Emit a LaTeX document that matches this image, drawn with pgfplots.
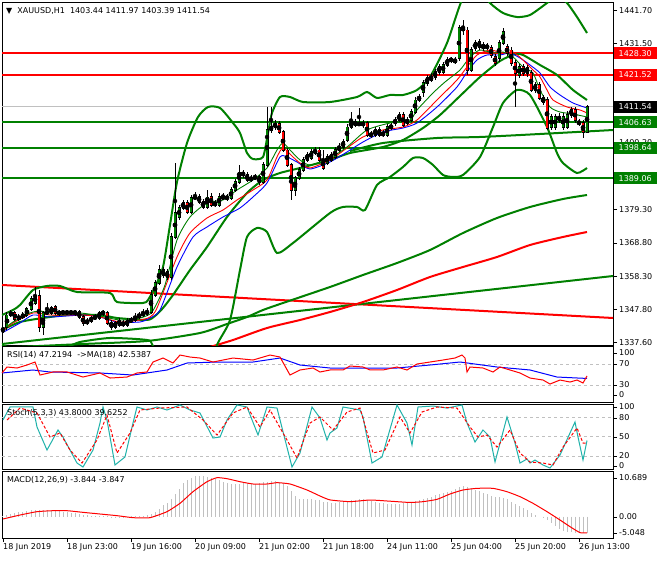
\documentclass[border=0pt]{standalone}
\usepackage{pgfplots}
\pgfplotsset{compat=1.18}
\usepackage{pgfplotstable}
\usepackage{fontspec}
\setmainfont{DejaVu Sans}

\definecolor{mtgreen}{RGB}{0,128,0}
\definecolor{mtred}{RGB}{255,0,0}
\definecolor{mtblue}{RGB}{0,0,255}
\definecolor{mtsea}{RGB}{32,178,170}
\definecolor{mtsilver}{RGB}{192,192,192}
\newcommand\lbl{\fontsize{8}{9.6}\selectfont}

\pgfplotsset{
  panel/.style={scale only axis, width=611pt, anchor=north west,
    xmin=-0.25, xmax=152.5, axis line style={black, line width=0.8pt},
    xtick=\empty, ytick=\empty},
  thickln/.style={line width=2pt},
  thinln/.style={line width=0.9pt},
}

% hourly candles XAUUSD: bar, open, high, low, close
\pgfplotstableread{
x o h l c
0 1340.81 1343.33 1339.56 1342.38
1 1342.38 1347.09 1341.44 1346.15
2 1346.15 1347.72 1345.52 1346.78
3 1346.78 1347.41 1344.27 1344.90
4 1344.90 1346.47 1344.27 1345.52
5 1345.52 1347.09 1344.90 1346.15
6 1346.15 1348.66 1345.52 1348.04
7 1348.04 1352.12 1347.41 1351.17
8 1349.92 1354.94 1349.29 1352.12
9 1352.12 1354.00 1340.81 1342.38
10 1342.38 1347.41 1339.87 1346.78
11 1346.78 1349.92 1346.15 1347.09
12 1346.78 1348.98 1346.15 1348.35
13 1348.66 1349.29 1346.15 1346.78
14 1346.78 1347.72 1345.84 1346.90
15 1346.78 1347.72 1346.15 1347.09
16 1347.09 1347.72 1346.15 1346.78
17 1346.78 1347.72 1346.15 1347.09
18 1347.09 1347.72 1345.84 1346.78
19 1347.09 1347.72 1344.90 1345.52
20 1345.52 1346.15 1342.70 1343.64
21 1343.64 1345.21 1343.01 1344.27
22 1344.27 1345.84 1343.64 1345.21
23 1345.21 1346.47 1344.58 1345.52
24 1345.21 1347.41 1344.58 1346.78
25 1346.78 1347.72 1345.84 1346.90
26 1346.78 1347.41 1343.01 1343.64
27 1343.95 1344.58 1341.44 1342.38
28 1342.38 1344.27 1341.76 1343.64
29 1344.58 1345.21 1342.38 1343.01
30 1343.01 1344.58 1342.38 1343.64
31 1343.01 1345.21 1342.38 1344.27
32 1344.27 1345.52 1343.64 1344.58
33 1344.58 1346.78 1343.95 1345.52
34 1345.52 1347.09 1344.90 1346.15
35 1346.15 1348.04 1345.52 1346.78
36 1346.78 1348.35 1345.84 1347.09
37 1347.09 1354.00 1346.47 1352.43
38 1352.43 1357.14 1351.80 1356.20
39 1356.20 1361.85 1355.57 1360.28
40 1360.28 1361.22 1357.77 1358.71
41 1359.65 1360.59 1357.14 1358.08
42 1358.08 1371.89 1357.14 1370.64
43 1370.64 1393.86 1370.01 1378.17
44 1376.91 1380.68 1375.97 1379.74
45 1379.74 1382.25 1379.11 1381.31
46 1381.31 1382.25 1377.86 1378.48
47 1378.48 1383.82 1377.86 1382.88
48 1382.88 1384.76 1382.25 1383.19
49 1383.19 1384.13 1380.99 1381.62
50 1381.62 1382.56 1379.42 1380.05
51 1380.05 1385.39 1379.42 1383.19
52 1383.19 1384.45 1380.05 1380.68
53 1380.68 1382.25 1380.05 1381.31
54 1380.68 1384.45 1380.05 1383.19
55 1382.88 1384.45 1382.25 1383.19
56 1382.88 1384.13 1381.94 1383.00
57 1382.88 1386.33 1382.25 1385.39
58 1385.39 1388.84 1384.76 1387.90
59 1387.90 1393.24 1387.27 1390.73
60 1390.73 1391.67 1389.16 1390.10
61 1390.10 1391.04 1387.90 1388.53
62 1388.53 1390.10 1387.90 1389.16
63 1389.16 1390.41 1388.53 1389.47
64 1389.47 1390.10 1386.96 1387.90
65 1387.90 1394.18 1387.27 1393.24
66 1393.24 1411.44 1392.61 1404.22
67 1404.22 1411.44 1403.28 1405.16
68 1405.16 1407.36 1404.22 1406.11
69 1406.11 1407.05 1402.97 1403.60
70 1403.60 1404.22 1397.32 1397.94
71 1397.94 1398.57 1392.61 1393.24
72 1393.24 1393.86 1382.25 1385.39
73 1385.39 1389.78 1383.51 1389.16
74 1389.16 1392.61 1388.53 1391.67
75 1391.67 1395.75 1391.04 1394.81
76 1394.81 1397.32 1394.18 1396.38
77 1395.43 1398.26 1394.81 1397.32
78 1397.00 1398.89 1396.38 1397.94
79 1397.94 1398.89 1394.18 1394.81
80 1394.81 1397.94 1391.67 1392.29
81 1393.86 1396.69 1393.24 1395.75
82 1394.81 1397.32 1394.18 1396.38
83 1395.75 1398.89 1395.12 1397.94
84 1397.94 1400.14 1397.32 1398.89
85 1398.89 1401.40 1398.26 1400.46
86 1401.08 1406.11 1400.46 1405.16
87 1405.16 1409.87 1404.54 1406.73
88 1406.73 1407.68 1405.16 1405.79
89 1405.79 1411.13 1405.48 1406.42
90 1406.42 1407.36 1404.85 1405.79
91 1406.42 1407.05 1402.03 1402.65
92 1402.65 1403.91 1401.71 1402.75
93 1402.65 1405.16 1402.03 1404.22
94 1404.22 1405.16 1402.03 1402.65
95 1402.65 1404.22 1402.03 1403.28
96 1402.65 1406.11 1402.03 1405.16
97 1405.16 1406.42 1404.22 1405.26
98 1406.42 1408.30 1405.48 1407.36
99 1407.36 1409.87 1406.73 1408.93
100 1408.93 1409.87 1405.16 1405.79
101 1406.42 1408.30 1405.79 1407.36
102 1407.36 1410.81 1406.73 1409.87
103 1409.87 1414.58 1409.25 1413.64
104 1413.64 1415.52 1413.01 1414.58
105 1416.15 1419.92 1414.58 1418.98
106 1418.98 1421.49 1418.03 1420.55
107 1419.92 1422.12 1419.29 1420.86
108 1420.86 1423.37 1419.92 1422.43
109 1424.00 1424.94 1421.49 1422.43
110 1422.43 1425.57 1421.80 1424.63
111 1424.63 1427.14 1424.00 1426.20
112 1426.20 1427.14 1425.25 1426.30
113 1425.57 1427.14 1424.94 1426.20
114 1426.82 1437.18 1425.88 1436.24
115 1436.24 1438.75 1434.04 1435.61
116 1435.61 1436.55 1421.49 1423.06
117 1423.06 1430.28 1422.43 1429.33
118 1429.96 1432.47 1429.02 1431.53
119 1431.85 1432.79 1429.33 1430.28
120 1429.96 1431.85 1429.02 1430.90
121 1430.28 1431.53 1429.33 1430.40
122 1429.96 1430.90 1426.82 1427.77
123 1427.14 1428.08 1424.31 1425.25
124 1426.82 1432.47 1425.57 1431.53
125 1431.53 1436.24 1430.90 1434.99
126 1430.28 1431.22 1427.45 1428.39
127 1429.33 1430.28 1424.31 1425.25
128 1425.25 1426.20 1411.44 1422.12
129 1421.49 1424.94 1420.55 1424.00
130 1424.00 1424.94 1421.17 1422.12
131 1423.69 1424.63 1420.86 1422.12
132 1422.12 1423.06 1416.15 1416.78
133 1416.78 1419.29 1415.84 1418.35
134 1418.35 1419.29 1413.64 1414.27
135 1414.27 1415.21 1412.07 1413.01
136 1413.64 1414.58 1404.22 1404.85
137 1405.16 1409.25 1404.22 1408.30
138 1405.16 1409.25 1404.22 1408.30
139 1408.30 1409.56 1406.42 1407.36
140 1405.16 1409.56 1404.22 1408.30
141 1405.16 1410.19 1404.54 1408.93
142 1410.50 1411.44 1407.99 1408.93
143 1410.50 1411.44 1406.42 1407.36
144 1406.42 1407.68 1405.48 1406.52
145 1406.42 1407.36 1401.71 1403.60
146 1403.44 1411.97 1403.39 1411.54
}\candles

\begin{document}
\begin{tikzpicture}
\fill[white] (0pt,0pt) rectangle (660pt,-560pt);
\path[use as bounding box] (0pt,0pt) rectangle (660pt,-560pt);

% ---------------- price panel
\begin{axis}[panel, at={(2pt,-2pt)}, height=343pt, ymin=1336.73, ymax=1444.40,
  scaled y ticks=false,
  ytick={1441.70,1431.50,1400.20,1379.30,1368.80,1358.30,1347.80,1337.60},
  yticklabels={1441.70,1431.50,1400.20,1379.30,1368.80,1358.30,1347.80,1337.60},
  ytick pos=right, yticklabel pos=right, tick align=outside, major tick length=4pt,
  ytick style={black, line width=0.6pt},
  y tick label style={font=\lbl, inner sep=1pt, xshift=1pt}]

% levels
\addplot[mtsilver, line width=0.8pt] coordinates {(-0.25,1411.54) (152.5,1411.54)};
\addplot[mtred, thickln] coordinates {(-0.25,1428.30) (152.5,1428.30)};
\addplot[mtred, thickln] coordinates {(-0.25,1421.52) (152.5,1421.52)};
\addplot[mtgreen, thickln] coordinates {(-0.25,1406.63) (152.5,1406.63)};
\addplot[mtgreen, thickln] coordinates {(-0.25,1398.64) (152.5,1398.64)};
\addplot[mtgreen, thickln] coordinates {(-0.25,1389.06) (152.5,1389.06)};
% trend lines
\addplot[mtred, thickln] coordinates {(-0.25,1355.57) (152.5,1345.21)};
\addplot[mtgreen, thickln] coordinates {(-0.25,1337.05) (152.5,1358.39)};
\addplot[mtgreen, thickln, smooth, tension=0.4] coordinates {(86.75,1397.6) (95,1400.14) (108.5,1401.71) (119.25,1402.03) (134.25,1402.97) (152.5,1404.22)};

% long moving averages
\addplot[mtgreen, thickln, smooth, tension=0.4] coordinates {(3.5,1336.11) (20,1337.05) (36,1337.99) (49.25,1340.50) (56,1343.33) (61,1345.52) (65,1347.72) (70,1349.92) (81.75,1354.94) (90,1358.71) (98.5,1362.47) (106.75,1366.55) (115,1371.89) (123.5,1376.60) (131.75,1380.05) (140,1382.56) (146,1383.82)};
\addplot[mtred, thickln, smooth, tension=0.4] coordinates {(51.75,1336.11) (57.5,1338.30) (66,1342.07) (74.25,1344.58) (81.75,1347.09) (90,1350.23) (98.5,1354.00) (106.75,1358.08) (115,1361.22) (123.5,1364.36) (131.75,1368.12) (140,1370.64) (146,1372.21)};

% Bollinger bands
\addplot[mtgreen, thickln, smooth, tension=0.4] coordinates {(-0.25,1346.15) (2.5,1347.72) (4.25,1349.29) (7.5,1354.00) (11,1355.26) (14.25,1355.26) (18.5,1353.37) (26.75,1353.06) (28.5,1350.23) (35,1349.92) (36.25,1350.86) (38,1354.94) (40,1361.22) (41.75,1374.40) (43.5,1387.90) (46,1400.14) (48.75,1408.30) (51.25,1411.44) (54.25,1411.13) (57.5,1406.42) (59.25,1403.28) (61,1397.00) (62.5,1395.12) (65,1395.75) (66.25,1403.28) (67.25,1409.56) (69.25,1414.58) (71.75,1414.58) (75,1413.01) (81.75,1413.01) (88.5,1414.58) (91,1416.15) (93.5,1414.27) (96.75,1415.21) (100,1415.21) (103.5,1416.78) (106.75,1420.86) (111,1431.53) (114.75,1445.03) (118.25,1449.42) (121.75,1444.09) (125,1440.95) (128.5,1439.69) (131.75,1440.32) (136,1444.09) (138.5,1446.29) (141,1444.09) (143.5,1439.69) (146,1434.67)};
\addplot[mtgreen, thickln, smooth, tension=0.4] coordinates {(-0.25,1341.44) (4.25,1343.95) (10,1345.21) (16,1346.15) (24.25,1346.15) (28.5,1345.21) (36,1344.58) (38,1345.84) (40,1348.35) (42.5,1352.43) (46.75,1360.28) (51,1367.50) (56,1376.91) (61,1384.45) (65,1388.53) (69.25,1390.73) (74.25,1392.29) (81.75,1394.81) (86.75,1397.00) (95,1398.89) (100,1401.08) (105,1404.85) (109.25,1408.93) (114.25,1414.90) (119.25,1420.86) (124.25,1425.88) (128,1428.08) (130,1427.77) (134.25,1424.63) (138.5,1421.49) (142.5,1416.78) (146,1413.64)};
\addplot[mtgreen, thickln, smooth, tension=0.4] coordinates {(-0.25,1336.7) (7.5,1334.0) (16,1336.11) (19.25,1337.68) (26.75,1338.93) (36,1338.30) (37.5,1336.42) (43,1322.60) (49.25,1319.47) (52.25,1328.89) (53.5,1336.73) (56.75,1344.58) (59.25,1360.28) (61,1370.64) (63.5,1373.46) (66,1372.21) (68.5,1365.62) (72.5,1368.75) (81.75,1378.17) (85,1380.05) (88.5,1380.05) (90.5,1379.11) (93.5,1386.96) (96.75,1389.47) (100,1392.61) (102.5,1395.43) (105,1395.43) (107.5,1393.24) (110,1390.10) (112.5,1389.47) (115,1390.10) (119.25,1395.75) (122.5,1405.16) (125,1412.70) (128.5,1416.78) (131.75,1415.21) (136,1405.16) (138.5,1397.00) (140,1393.86) (143.5,1390.73) (146,1392.30)};

% fast moving averages
\addplot[mtblue, thinln, smooth, tension=0.4] coordinates {(-0.25,1340.50) (4.25,1343.64) (7.5,1346.15) (11.75,1345.52) (20,1346.15) (24.25,1345.52) (28.5,1343.95) (34.25,1343.95) (36.75,1345.21) (39.25,1347.72) (43.5,1361.22) (47.5,1370.64) (51,1373.78) (55,1376.91) (59.25,1379.74) (62.5,1383.19) (66,1387.59) (69.25,1395.75) (71,1395.75) (73.5,1394.18) (76.75,1391.98) (81.75,1394.18) (86,1397.32) (90,1400.46) (95,1403.60) (100,1404.85) (103.5,1406.42) (108.5,1411.44) (113.5,1417.72) (116,1422.43) (118.5,1426.20) (121,1427.77) (124.25,1427.77) (126.75,1428.39) (129.25,1426.82) (131.75,1424.63) (134.25,1422.12) (136.75,1417.72) (139.25,1415.21) (142.5,1412.70) (146,1411.13)};
\addplot[mtred, thinln, smooth, tension=0.4] coordinates {(-0.25,1341.13) (2.5,1343.64) (7.5,1346.78) (11.75,1346.15) (20,1346.15) (24.25,1345.52) (29.25,1343.95) (34.25,1344.58) (36.75,1345.52) (38.5,1348.35) (43.5,1364.36) (46.75,1371.89) (51,1376.60) (55,1379.11) (58.5,1382.25) (62.5,1385.39) (66,1388.53) (68.5,1395.75) (70,1398.57) (72.5,1395.75) (74.25,1393.86) (76.75,1392.30) (81.75,1394.81) (86,1398.57) (90,1402.03) (95,1404.22) (100,1405.16) (103.5,1407.36) (108.5,1413.64) (113.5,1419.92) (116,1424.00) (118.5,1427.77) (121.75,1429.33) (125,1428.39) (127.5,1428.71) (130,1426.20) (132.5,1423.06) (134.25,1420.86) (136,1416.78) (137.5,1413.64) (141,1411.44) (144.25,1410.50) (146,1409.56)};
\addplot[mtgreen, thinln, smooth, tension=0.4] coordinates {(-0.25,1341.44) (2.5,1343.95) (6.75,1346.78) (9.25,1347.41) (11.75,1346.78) (19.25,1346.78) (24.25,1345.84) (29.25,1344.58) (34.25,1345.21) (36.75,1346.47) (38,1348.66) (40.5,1355.57) (43.5,1369.69) (46.75,1376.91) (51,1381.31) (55,1382.25) (58.5,1385.39) (62.5,1388.53) (66,1392.30) (68.5,1397.94) (70,1400.14) (71.75,1397.94) (74.25,1394.81) (76.75,1393.24) (81.75,1395.43) (86,1398.89) (91,1404.22) (96.75,1406.42) (101.75,1407.36) (103.5,1410.50) (107.5,1415.84) (110.5,1419.29) (114.25,1423.06) (116.75,1427.14) (119.25,1429.33) (122.5,1428.39) (125,1428.71) (127.5,1427.14) (130,1424.00) (132.5,1422.12) (134.25,1416.78) (136.75,1411.44) (139.25,1409.87) (142.5,1409.25) (146,1408.30)};

% candles: wicks, body outline, bull and bear bodies
\addplot[only marks, mark=none, forget plot,
  error bars/.cd, y dir=both, y explicit, error mark=none,
  error bar style={line width=1pt, black}]
  table[x=x, y expr={(\thisrow{h}+\thisrow{l})/2}, y error expr={(\thisrow{h}-\thisrow{l})/2}] {\candles};
\addplot[only marks, mark=none, forget plot,
  error bars/.cd, y dir=both, y explicit, error mark=none,
  error bar style={line width=3pt, black}]
  table[x=x, y expr={(\thisrow{o}+\thisrow{c})/2}, y error expr={abs(\thisrow{c}-\thisrow{o})/2+0.17}] {\candles};
\addplot[only marks, mark=none, forget plot,
  error bars/.cd, y dir=both, y explicit, error mark=none,
  error bar style={line width=1.3pt, mtgreen}]
  table[x=x, y expr={(\thisrow{o}+\thisrow{c})/2}, y error expr={max(\thisrow{c}-\thisrow{o},0)/2}] {\candles};
\addplot[only marks, mark=none, forget plot,
  error bars/.cd, y dir=both, y explicit, error mark=none,
  error bar style={line width=1.3pt, mtred}]
  table[x=x, y expr={(\thisrow{o}+\thisrow{c})/2}, y error expr={max(\thisrow{o}-\thisrow{c},0)/2}] {\candles};
\end{axis}

% ---------------- RSI panel
\begin{axis}[panel, at={(2pt,-346pt)}, height=56pt, ymin=-2.38, ymax=104.3]
\addplot[mtsilver, line width=0.8pt, dash pattern=on 3pt off 3pt] coordinates {(-0.25,70) (152.5,70)};
\addplot[mtsilver, line width=0.8pt, dash pattern=on 3pt off 3pt] coordinates {(-0.25,30) (152.5,30)};
\addplot[mtblue, line width=1pt] coordinates {(-0.25,52.9) (7.5,58.6) (11.75,54.8) (24.25,52.9) (32.5,49.0) (41,58.6) (46,71.9) (53.5,73.8) (62.5,73.8) (69.25,81.4) (74.25,68.1) (81.75,62.4) (90,62.4) (98.5,62.4) (106.75,68.1) (114.25,73.8) (123.5,64.3) (131.75,58.6) (138.5,45.2) (146,42.5)};
\addplot[mtred, line width=1pt] coordinates {(-0.25,52.9) (1,64.3) (3.5,62.4) (6,68.1) (8,73.8) (9.25,49.0) (12.5,54.8) (16,54.8) (20,45.2) (24.25,52.9) (26.75,43.3) (31,45.2) (33.5,52.9) (36,54.8) (37.5,73.8) (40,81.4) (42.5,71.9) (44.25,87.1) (46.75,83.3) (49.25,81.4) (52.5,73.8) (57.5,81.4) (62.5,77.6) (66.75,87.1) (69.25,83.3) (71.75,49.0) (74.25,58.6) (77.5,62.4) (79.25,54.8) (81.75,58.6) (85,58.6) (86.75,66.2) (90,64.3) (91.75,58.6) (95,58.6) (98.5,64.3) (101,58.6) (103.5,70.0) (106.75,73.8) (110,77.6) (113,81.4) (114.75,87.1) (115.5,81.4) (116,54.8) (116.75,64.3) (120,62.4) (122.5,54.8) (124.25,64.3) (126.75,58.6) (129.25,52.9) (131.75,43.3) (135,39.5) (136.75,31.9) (139.25,39.5) (141.75,35.7) (143.5,39.5) (145,33.8) (146,47.2)};
\end{axis}

% ---------------- Stochastic panel
\begin{axis}[panel, at={(2pt,-404pt)}, height=65pt, ymin=0, ymax=100]
\addplot[mtsilver, line width=0.8pt, dash pattern=on 3pt off 3pt] coordinates {(-0.25,80) (152.5,80)};
\addplot[mtsilver, line width=0.8pt, dash pattern=on 3pt off 3pt] coordinates {(-0.25,50) (152.5,50)};
\addplot[mtsilver, line width=0.8pt, dash pattern=on 3pt off 3pt] coordinates {(-0.25,20) (152.5,20)};
\addplot[mtsea, line width=1pt] coordinates {(0,75.4) (1.75,95.4) (7.5,95.4) (8.5,64.6) (11,29.2) (13.75,60.0) (15,49.2) (18.5,9.2) (20,3.1) (22.5,29.2) (24.25,70.8) (25,95.4) (26,75.4) (28,6.2) (30.5,18.5) (32.5,70.8) (33.5,95.4) (36,90.8) (38.5,95.4) (41,90.8) (44.25,98.5) (46.75,90.8) (49.25,86.2) (52.5,47.7) (54.25,49.2) (56,75.4) (58.5,98.5) (61,95.4) (63.75,52.3) (66,95.4) (68.5,93.8) (72.25,3.1) (74.25,24.6) (77.25,95.4) (79.25,78.5) (81,44.6) (81.75,55.4) (83.5,63.1) (85,95.4) (89.25,90.8) (90,80.0) (92.25,9.2) (94.75,18.5) (98.5,98.5) (101,70.8) (102.25,36.9) (103.75,95.4) (107.5,96.9) (111,93.8) (114.75,98.5) (116,70.8) (118,41.5) (120,60.0) (121.75,49.2) (123,10.8) (126,80.0) (128,40.0) (129.25,9.2) (131,15.4) (131.75,9.2) (133,13.8) (135,6.2) (136.75,1.5) (139.25,21.5) (141.75,55.4) (143,72.3) (143.75,49.2) (145,13.8) (146,43.8)};
\addplot[mtred, line width=1pt, dash pattern=on 3pt off 2pt] coordinates {(1,75.4) (4.25,93.8) (8.5,86.2) (11.75,49.2) (14.25,55.4) (16.75,29.2) (19.75,9.2) (23.5,44.6) (26,83.1) (28.5,24.6) (31.75,55.4) (34.25,90.8) (39.25,93.8) (46,95.4) (50,75.4) (53.5,52.3) (57.5,86.2) (61,95.4) (64.25,64.6) (66.75,90.8) (71,44.6) (73.5,16.9) (76.75,70.8) (79.25,80.0) (82.5,60.0) (86,87.7) (89.25,93.8) (92.5,24.6) (95.5,29.2) (99.25,80.0) (101.75,55.4) (104.75,87.7) (108.5,95.4) (113.5,93.8) (116.75,64.6) (118.75,49.2) (121,52.3) (123.5,33.8) (126.75,60.0) (129.25,24.6) (131.75,10.8) (135,9.2) (137.5,6.2) (140,33.8) (143.5,63.1) (145,40.0) (146,39.6)};
\end{axis}

% ---------------- MACD panel
\begin{axis}[panel, at={(2pt,-471pt)}, height=67pt, ymin=-5.048, ymax=10.689,
  xtick={0,16,...,144},
  xticklabels={18 Jun 2019,18 Jun 23:00,19 Jun 16:00,20 Jun 09:00,21 Jun 02:00,21 Jun 18:00,24 Jun 11:00,25 Jun 04:00,25 Jun 20:00,26 Jun 13:00},
  xtick pos=bottom, tick align=outside, major tick length=4pt,
  xtick style={black, line width=0.6pt},
  x tick label style={font=\lbl, anchor=north west, inner sep=1pt, xshift=-1pt}]
\addplot[ycomb, mtsilver, line width=1pt] coordinates {
(0,0.05) (1,0.3) (2,0.6) (3,0.8) (4,0.95) (5,1.14) (6,1.3) (7,1.45) (8,1.5) (9,1.55)
(10,1.55) (11,1.45) (12,1.4) (13,1.35) (14,1.3) (15,1.15) (16,1.1) (17,0.9) (18,0.75) (19,0.6)
(20,0.35) (21,0.25) (22,0.2) (23,0.1) (24,0.05) (25,0.05) (26,0.02) (27,-0.02) (28,-0.05) (29,-0.05)
(30,-0.03) (31,0.0) (32,0.02) (33,0.03) (34,0.05) (35,0.1) (36,0.3) (37,0.6) (38,0.95) (39,1.7)
(40,2.7) (41,3.1) (42,4.0) (43,5.2) (44,6.4) (45,7.8) (46,8.5) (47,9.1) (48,9.4) (49,9.5)
(50,9.4) (51,9.3) (52,9.1) (53,8.8) (54,8.5) (55,8.2) (56,7.9) (57,7.7) (58,7.6) (59,7.7)
(60,7.9) (61,7.8) (62,7.7) (63,7.7) (64,7.8) (65,8.0) (66,8.2) (67,8.4) (68,8.3) (69,8.1)
(70,7.8) (71,7.1) (72,6.0) (73,4.8) (74,4.2) (75,4.0) (76,4.0) (77,4.0) (78,3.95) (79,3.8)
(80,3.5) (81,3.3) (82,3.1) (83,3.1) (84,3.3) (85,3.5) (86,3.6) (87,3.8) (88,3.9) (89,4.0)
(90,4.0) (91,3.85) (92,3.7) (93,3.4) (94,3.2) (95,3.1) (96,3.0) (97,2.9) (98,2.9) (99,3.0)
(100,3.1) (101,3.2) (102,3.4) (103,3.6) (104,3.9) (105,4.1) (106,4.4) (107,4.7) (108,5.0) (109,5.3)
(110,5.45) (111,5.7) (112,6.0) (113,6.4) (114,6.9) (115,7.2) (116,7.0) (117,6.6) (118,6.2) (119,5.9)
(120,5.6) (121,5.3) (122,4.9) (123,4.7) (124,4.66) (125,4.4) (126,4.0) (127,3.4) (128,2.9) (129,2.4)
(130,1.9) (131,1.5) (132,0.9) (133,0.4) (134,0.0) (135,-0.4) (136,-0.8) (137,-1.6) (138,-2.3) (139,-2.9)
(140,-3.3) (141,-3.55) (142,-3.7) (143,-3.8) (144,-3.8) (145,-3.85) (146,-3.844)};
\addplot[mtred, line width=1pt, smooth, tension=0.3] coordinates {(0,-0.58) (4.25,0.35) (8.5,1.14) (12.5,1.37) (16,1.37) (20,0.98) (24.25,0.59) (28.5,0.20) (32.5,-0.27) (36.75,-0.27) (41,1.14) (44.25,3.10) (47.5,5.83) (51,8.18) (53.5,9.12) (56,8.89) (59.25,8.18) (62.5,7.64) (66,7.64) (68.5,7.95) (71.75,7.64) (76,6.23) (79.25,4.82) (81.75,3.9) (86.75,3.49) (91.75,3.88) (96.75,3.6) (101.75,3.3) (105,3.49) (108.5,4.03) (111.75,5.29) (115,6.23) (118.5,6.62) (122.5,6.62) (126,5.83) (129.25,4.66) (132.5,3.10) (136,1.14) (139.25,-0.82) (141.75,-2.38) (144.25,-3.79) (146,-3.847)};
\end{axis}

% ---------------- panel headers
\node[anchor=west, font=\lbl, inner sep=0pt] at (6pt,-11pt) {▼\ \ XAUUSD,H1\ \ 1403.44 1411.97 1403.39 1411.54};
\node[anchor=west, font=\lbl, inner sep=0pt] at (7pt,-355pt) {RSI(14) 47.2194\ \ ->MA(18) 42.5387};
\node[anchor=west, font=\lbl, inner sep=0pt] at (7pt,-413pt) {Stoch(5,3,3) 43.8000 39.6252};
\node[anchor=west, font=\lbl, inner sep=0pt] at (7pt,-480pt) {MACD(12,26,9) -3.844 -3.847};

% ---------------- indicator scale labels
\foreach \yy/\tt in {353/100,364/70,385/30,395/0,407/100,418/80,437/50,456/20,466/0,478/10.689,517/0.00,533/-5.048}{
  \draw[black, line width=0.6pt] (613pt,-\yy pt) -- (617pt,-\yy pt);
  \node[anchor=west, font=\lbl, inner sep=1pt] at (618pt,-\yy pt) {\tt};
}

% ---------------- price tags
\foreach \yy/\tt/\cc in {53.3/1428.30/mtred,74.9/1421.52/mtred,106.7/1411.54/black,122.3/1406.63/mtgreen,147.8/1398.64/mtgreen,178.3/1389.06/mtgreen}{
  \node[fill=\cc, text=white, font=\lbl, anchor=west, inner xsep=2pt, inner ysep=1pt,
    minimum width=43pt, minimum height=12pt] at (613.5pt,-\yy pt) {\tt};
}
\end{tikzpicture}
\end{document}
